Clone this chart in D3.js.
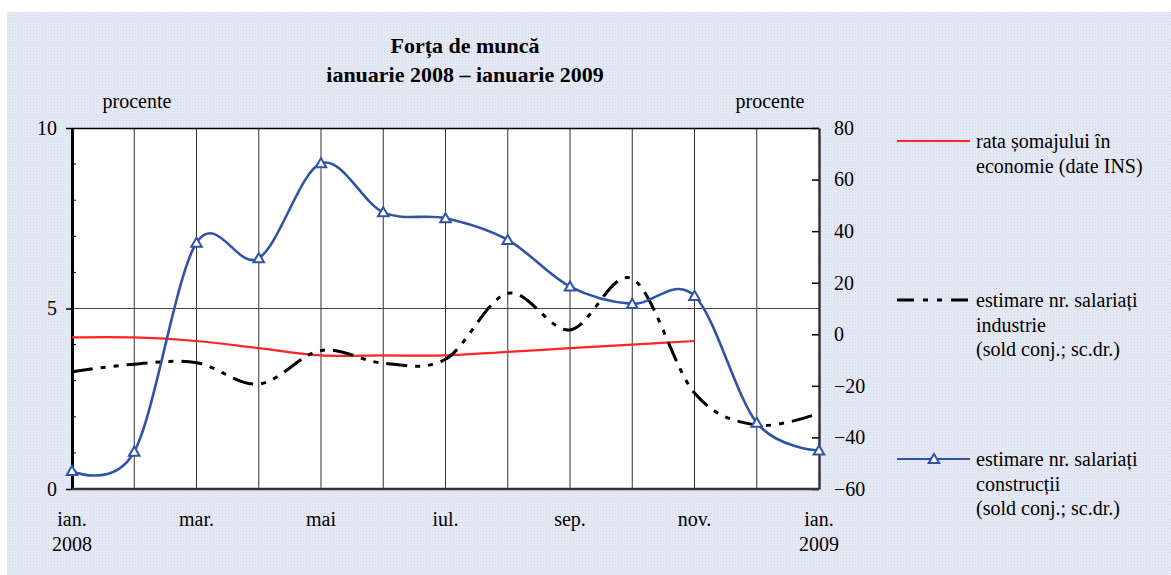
<!DOCTYPE html>
<html>
<head>
<meta charset="utf-8">
<script src="https://cdn.jsdelivr.net/npm/d3@7"></script>
<style>
  body { margin: 0; background: #fff; }
  text { font-family: "Liberation Serif", "DejaVu Serif", serif; fill: #000; }
</style>
</head>
<body>
<div id="chart"></div>
<script>
// months shown on the category axis (every month has a gridline, every 2nd has a label)
var months = ["ian.", "feb.", "mar.", "apr.", "mai", "iun.", "iul.", "aug.", "sep.", "oct.", "nov.", "dec.", "ian."];
var years = ["2008", "", "", "", "", "", "", "", "", "", "", "", "2009"];

// rata somajului (left axis, %)
var unemployment = [4.2, 4.2, 4.1, 3.9, 3.7, 3.7, 3.7, 3.8, 3.9, 4.0, 4.1, null, null];
// estimare nr. salariati industrie (sold conj., right axis)
var industry = [-14.5, -11.6, -11, -19.3, -6.3, -11.2, -9.7, 15.9, 1.7, 21.5, -22.8, -35.2, -30.6];
// estimare nr. salariati constructii (sold conj., right axis)
var construction = [-53, -45.5, 35.5, 29.5, 66.3, 47.3, 45, 36.6, 18.5, 11.8, 14.9, -34.3, -45.1];

var leftTicks = [0, 5, 10];
var rightTicks = [-60, -40, -20, 0, 20, 40, 60, 80];

var svgWidth = 1171, svgHeight = 575;
var margin = { top: 128, left: 72, right: 352, bottom: 86 };
var width = svgWidth - margin.left - margin.right;
var height = svgHeight - margin.top - margin.bottom;
var fs = "20px";

var svg = d3.select("#chart").append("svg")
    .attr("width", svgWidth)
    .attr("height", svgHeight);

// dotted grey-blue background like the original
var defs = svg.append("defs");
var pat = defs.append("pattern")
    .attr("id", "bgdots")
    .attr("width", 3).attr("height", 3)
    .attr("patternUnits", "userSpaceOnUse");
pat.append("rect").attr("width", 3).attr("height", 3).attr("fill", "#e7eaf5");
pat.append("rect").attr("width", 1).attr("height", 1).attr("fill", "#d2d7e8");
pat.append("rect").attr("x", 1.5).attr("y", 1.5).attr("width", 1).attr("height", 1).attr("fill", "#dadfed");

svg.append("rect")
    .attr("x", 7).attr("y", 12)
    .attr("width", svgWidth - 7).attr("height", svgHeight - 12)
    .attr("fill", "url(#bgdots)");

var x = d3.scaleLinear().domain([0, months.length - 1]).range([0, width]);
var yL = d3.scaleLinear().domain([0, 10]).range([height, 0]);
var yR = d3.scaleLinear().domain([-60, 80]).range([height, 0]);

var g = svg.append("g").attr("transform", `translate(${margin.left}, ${margin.top})`);

g.append("rect").attr("width", width).attr("height", height).attr("fill", "#fff");

// vertical gridlines at each month
g.append("g").selectAll("line")
    .data(d3.range(1, months.length - 1))
    .enter().append("line")
    .attr("x1", d => x(d)).attr("x2", d => x(d))
    .attr("y1", 0).attr("y2", height)
    .attr("stroke", "#333").attr("stroke-width", 1);

// horizontal gridline at 5
g.append("line")
    .attr("x1", 0).attr("x2", width)
    .attr("y1", yL(5)).attr("y2", yL(5))
    .attr("stroke", "#444").attr("stroke-width", 1);

// top border
g.append("line").attr("x1", 0).attr("x2", width).attr("y1", 0.5).attr("y2", 0.5)
    .attr("stroke", "#000").attr("stroke-width", 1.5);

// left axis
var leftAxis = g.append("g")
    .call(d3.axisLeft(yL).tickValues(leftTicks).tickSize(6).tickSizeOuter(0).tickPadding(9));
leftAxis.attr("font-family", null).attr("font-size", null);
leftAxis.select(".domain").attr("stroke", "#000").attr("stroke-width", 3);
leftAxis.selectAll(".tick line").attr("stroke", "#000").attr("stroke-width", 1.5);
leftAxis.selectAll("text").attr("font-size", fs);
// minor ticks (inside)
g.append("g").selectAll("line")
    .data(d3.range(1, 10).filter(d => d !== 5))
    .enter().append("line")
    .attr("x1", 0).attr("x2", 4)
    .attr("y1", d => yL(d)).attr("y2", d => yL(d))
    .attr("stroke", "#000").attr("stroke-width", 1);

// right axis
var rightAxis = g.append("g")
    .attr("transform", `translate(${width}, 0)`)
    .call(d3.axisRight(yR).tickValues(rightTicks).tickSizeInner(-7).tickSizeOuter(0).tickPadding(15));
rightAxis.attr("font-family", null).attr("font-size", null);
rightAxis.select(".domain").attr("stroke", "#333").attr("stroke-width", 2.5);
rightAxis.selectAll(".tick line").attr("stroke", "#000").attr("stroke-width", 1.5);
rightAxis.selectAll("text").attr("font-size", fs);

// bottom axis line
g.append("line").attr("x1", 0).attr("x2", width).attr("y1", height).attr("y2", height)
    .attr("stroke", "#333").attr("stroke-width", 2.5);

// month labels (every second month) and years
g.append("g").selectAll("text")
    .data(months.map((m, i) => ({ m: m, i: i })).filter(d => d.i % 2 === 0))
    .enter().append("text")
    .attr("x", d => x(d.i)).attr("y", height + 37)
    .attr("text-anchor", "middle").attr("font-size", fs)
    .text(d => d.m);
g.append("g").selectAll("text")
    .data(years.map((y, i) => ({ y: y, i: i })).filter(d => d.y))
    .enter().append("text")
    .attr("x", d => x(d.i)).attr("y", height + 62)
    .attr("text-anchor", "middle").attr("font-size", fs)
    .text(d => d.y);

var curve = d3.curveCatmullRom.alpha(0);

// unemployment line (left)
var lineL = d3.line()
    .defined(d => d != null)
    .x((d, i) => x(i)).y(d => yL(d))
    .curve(curve);
g.append("path").datum(unemployment)
    .attr("d", lineL).attr("fill", "none")
    .attr("stroke", "#ff2424").attr("stroke-width", 2.2);

var lineR = d3.line()
    .x((d, i) => x(i)).y(d => yR(d))
    .curve(curve);

g.append("path").datum(industry)
    .attr("d", lineR).attr("fill", "none")
    .attr("stroke", "#000").attr("stroke-width", 3)
    .attr("stroke-dasharray", "21,8,5,8,5,8");

g.append("path").datum(construction)
    .attr("d", lineR).attr("fill", "none")
    .attr("stroke", "#3153a5").attr("stroke-width", 2.6);

var tri = d3.symbol().type(d3.symbolTriangle).size(48);
g.append("g").selectAll("path")
    .data(construction)
    .enter().append("path")
    .attr("d", tri)
    .attr("transform", (d, i) => `translate(${x(i)}, ${yR(d) + 1})`)
    .attr("fill", "#fff").attr("stroke", "#3153a5").attr("stroke-width", 2);

// titles
svg.append("text").attr("x", 465).attr("y", 53)
    .attr("text-anchor", "middle").attr("font-size", "22px").attr("font-weight", "bold")
    .text("Forța de muncă");
svg.append("text").attr("x", 465).attr("y", 82)
    .attr("text-anchor", "middle").attr("font-size", "22px").attr("font-weight", "bold")
    .text("ianuarie 2008 – ianuarie 2009");

svg.append("text").attr("x", 137).attr("y", 108)
    .attr("text-anchor", "middle").attr("font-size", fs).text("procente");
svg.append("text").attr("x", 770).attr("y", 108)
    .attr("text-anchor", "middle").attr("font-size", fs).text("procente");

// legend
var legend = svg.append("g");
var lx0 = 897, lx1 = 970, tx = 976;

legend.append("line").attr("x1", lx0).attr("x2", lx1).attr("y1", 141).attr("y2", 141)
    .attr("stroke", "#ff2424").attr("stroke-width", 2.2);
var t1 = legend.append("text").attr("x", tx).attr("y", 148).attr("font-size", fs);
t1.append("tspan").attr("x", tx).text("rata șomajului în");
t1.append("tspan").attr("x", tx).attr("dy", 24.5).text("economie (date INS)");

legend.append("line").attr("x1", lx0).attr("x2", lx1).attr("y1", 300).attr("y2", 300)
    .attr("stroke", "#000").attr("stroke-width", 3)
    .attr("stroke-dasharray", "17,9,5,9,5,9");
var t2 = legend.append("text").attr("x", tx).attr("y", 307).attr("font-size", fs);
t2.append("tspan").attr("x", tx).text("estimare nr. salariați");
t2.append("tspan").attr("x", tx).attr("dy", 24.5).text("industrie");
t2.append("tspan").attr("x", tx).attr("dy", 24.5).text("(sold conj.; sc.dr.)");

legend.append("line").attr("x1", lx0).attr("x2", lx1).attr("y1", 459).attr("y2", 459)
    .attr("stroke", "#3153a5").attr("stroke-width", 2.2);
legend.append("path").attr("d", tri)
    .attr("transform", "translate(934, 460)")
    .attr("fill", "#fff").attr("stroke", "#3153a5").attr("stroke-width", 2);
var t3 = legend.append("text").attr("x", tx).attr("y", 466).attr("font-size", fs);
t3.append("tspan").attr("x", tx).text("estimare nr. salariați");
t3.append("tspan").attr("x", tx).attr("dy", 24.5).text("construcții");
t3.append("tspan").attr("x", tx).attr("dy", 24.5).text("(sold conj.; sc.dr.)");
</script>
</body>
</html>
